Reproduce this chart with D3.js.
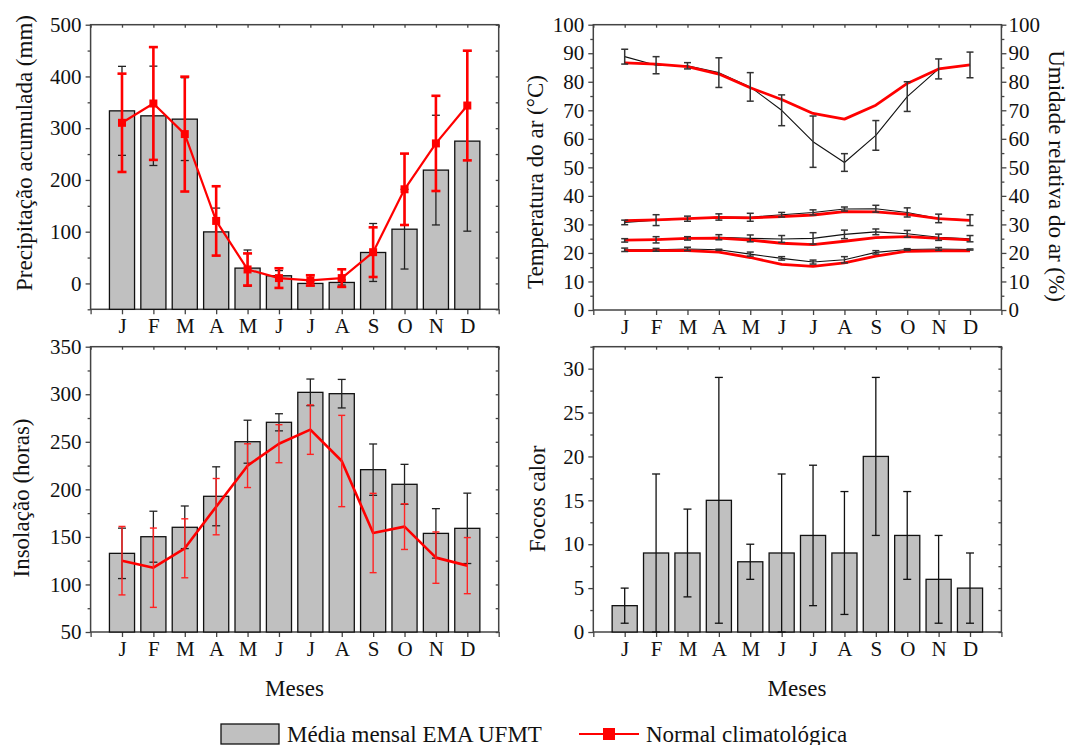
<!DOCTYPE html>
<html>
<head>
<meta charset="utf-8">
<script src="https://cdn.jsdelivr.net/npm/d3@7"></script>
<style>
body { margin: 0; background: #fff; }
</style>
</head>
<body>
<svg id="viz"></svg>
<script>
const months = ['J', 'F', 'M', 'A', 'M', 'J', 'J', 'A', 'S', 'O', 'N', 'D'];

// precipitação (mm)
const precipMean = [333.5, 323.9, 317.5, 99.6, 29.6, 14.8, 0, 1.9, 59.8, 104.8, 219, 275];
const precipMeanErr = [86, 96, 80, 46, 35, 10, 4, 5, 56, 77, 106, 174];
const precipNormal = [310.4, 347.7, 288.6, 120.8, 27, 10.3, 5.8, 10.3, 60.4, 181.9, 270.6, 343.8];
const precipNormalErr = [95, 109, 111, 67, 31, 19, 10, 17, 48, 69, 92, 106];

// umidade relativa (%)
const umidMean = [88.8, 85.8, 85.6, 83.2, 78.2, 70, 59, 51.7, 61.2, 74.8, 84.5, 85.9];
const umidMeanErr = [2.6, 3, 1.1, 5.2, 5, 5.4, 9, 3.1, 5.2, 5.2, 3.5, 4.5];
const umidNormal = [86.6, 86.2, 85.3, 82.7, 77.9, 73.8, 68.9, 66.9, 71.8, 79.4, 84.5, 85.9];

// temperatura do ar (°C)
const tmaxMean = [30.7, 31.5, 32.0, 32.6, 32.5, 33.4, 34.2, 35.4, 35.5, 34.2, 32.1, 31.5];
const tmaxErr = [0.8, 1.9, 0.9, 1.1, 1.4, 0.8, 0.9, 0.7, 1.2, 1.6, 1.5, 1.9];
const tmaxNormal = [31.3, 31.6, 32.0, 32.5, 32.3, 32.7, 33.3, 34.5, 34.4, 33.5, 32.0, 31.4];
const tmedMean = [24.4, 24.6, 25.1, 25.5, 25.1, 24.9, 25.1, 26.5, 27.4, 26.7, 25.5, 25.0];
const tmedErr = [0.6, 1.1, 0.6, 0.9, 1.2, 1.2, 2.0, 1.5, 1.0, 1.2, 1.1, 1.1];
const tmedNormal = [24.5, 24.7, 25.1, 25.2, 24.5, 23.4, 22.9, 24.1, 25.4, 25.7, 25.1, 24.6];
const tminMean = [21.1, 21.1, 21.4, 21.1, 19.6, 18.1, 16.8, 17.6, 20.2, 21.2, 21.4, 21.2];
const tminErr = [0.6, 0.5, 0.6, 0.2, 0.7, 0.6, 0.7, 1.1, 0.6, 0.3, 0.5, 0.2];
const tminNormal = [20.8, 20.8, 20.8, 20.3, 18.4, 16.0, 15.3, 16.5, 18.9, 20.6, 20.7, 20.7];

// insolação (horas)
const insolMean = [132.7, 150.2, 160.1, 192.7, 250.1, 270.5, 302, 300.6, 220.7, 205.3, 153.7, 159];
const insolMeanErr = [26.5, 26.8, 22.4, 31, 22.6, 9, 14, 15, 27, 21, 26, 37];
const insolNormal = [125, 117.6, 138, 181.8, 224.9, 248, 262.8, 229.8, 154.1, 160.8, 128.2, 119.8];
const insolNormalErr = [36, 41.7, 31, 29.6, 23, 20, 26, 48, 41.7, 24, 27, 29.5];

// focos de calor
const focos = [3, 9, 9, 15, 8, 9, 11, 9, 20, 11, 6, 5];
const focosMin = [1, 0, 4, 1, 6, 0, 3, 2, 11, 6, 1, 1];
const focosMax = [5, 18, 14, 29, 10, 18, 19, 16, 29, 16, 11, 9];

const width = 1067, height = 745;
const red = '#ff0000', barFill = '#c0c0c0', axisColor = '#444';
const serif = '"Liberation Serif", "Times New Roman", serif';

const svg = d3.select('#viz')
	.attr('width', width)
	.attr('height', height)
	.attr('font-family', serif);

const styleAxis = sel => {
	sel.attr('font-family', serif);
	sel.select('.domain').remove();
	sel.selectAll('line').attr('stroke', axisColor).attr('stroke-width', 1.3);
	sel.selectAll('text').attr('font-size', 21).attr('fill', '#111').attr('font-family', serif);
};

const panel = function(box, yDomain, major, minor) {
	const x = d3.scaleLinear().domain([0, 13]).range([box.left, box.right]),
		y = d3.scaleLinear().domain(yDomain).range([box.bottom, box.top]),
		g = svg.append('g'),
		majors = d3.range(Math.ceil(yDomain[0] / major) * major, yDomain[1] + 0.001, major),
		minors = d3.range(Math.ceil(yDomain[0] / minor) * minor, yDomain[1] + 0.001, minor)
			.filter(v => Math.abs(v / major - Math.round(v / major)) > 1e-6);

	g.append('g')
		.attr('transform', `translate(0,${box.bottom})`)
		.call(d3.axisBottom(x).tickValues(d3.range(14)).tickSize(5).tickPadding(4)
			.tickFormat(d => months[d - 1] || ''))
		.call(styleAxis);
	g.append('g')
		.attr('transform', `translate(0,${box.top})`)
		.call(d3.axisTop(x).tickValues(d3.range(14)).tickSize(-3).tickFormat(''))
		.call(styleAxis);
	g.append('g')
		.attr('transform', `translate(${box.left},0)`)
		.call(d3.axisLeft(y).tickValues(majors).tickSize(5).tickPadding(4))
		.call(styleAxis);
	g.append('g')
		.attr('transform', `translate(${box.left},0)`)
		.call(d3.axisLeft(y).tickValues(minors).tickSize(3).tickFormat(''))
		.call(styleAxis);

	g.append('rect')
		.attr('x', box.left).attr('y', box.top)
		.attr('width', box.right - box.left).attr('height', box.bottom - box.top)
		.attr('fill', 'none').attr('stroke', axisColor).attr('stroke-width', 1.5);

	return {x, y, g, majors, minors};
};

const rightTicks = function(p, box) {
	p.g.append('g')
		.attr('transform', `translate(${box.right},0)`)
		.call(d3.axisRight(p.y).tickValues(p.majors.concat(p.minors)).tickSize(-3).tickFormat(''))
		.call(styleAxis);
};

const bars = function(p, values, base) {
	const bw = (p.x(1) - p.x(0)) * 0.8;
	p.g.append('g').selectAll('rect')
		.data(values)
		.join('rect')
		.attr('x', (d, i) => p.x(i + 1) - bw / 2)
		.attr('y', d => p.y(d))
		.attr('width', bw)
		.attr('height', d => p.y(base) - p.y(d))
		.attr('fill', barFill)
		.attr('stroke', '#111')
		.attr('stroke-width', 1.3);
};

const errorBars = function(p, lo, hi, color, sw, cap) {
	const gg = p.g.append('g').attr('stroke', color).attr('stroke-width', sw);
	lo.forEach((l, i) => {
		const cx = p.x(i + 1);
		gg.append('line').attr('x1', cx).attr('x2', cx).attr('y1', p.y(l)).attr('y2', p.y(hi[i]));
		gg.append('line').attr('x1', cx - cap / 2).attr('x2', cx + cap / 2).attr('y1', p.y(l)).attr('y2', p.y(l));
		gg.append('line').attr('x1', cx - cap / 2).attr('x2', cx + cap / 2).attr('y1', p.y(hi[i])).attr('y2', p.y(hi[i]));
	});
};

const line = function(p, values, color, sw) {
	p.g.append('path')
		.attr('d', d3.line().x((d, i) => p.x(i + 1)).y(d => p.y(d))(values))
		.attr('fill', 'none')
		.attr('stroke', color)
		.attr('stroke-width', sw)
		.attr('stroke-linejoin', 'round');
};

const label = function(text, x, y, size) {
	return svg.append('text')
		.attr('x', x).attr('y', y)
		.attr('font-family', serif)
		.attr('font-size', size)
		.attr('fill', '#111')
		.text(text);
};

const yTitle = function(text, cx, cy, rot) {
	label(text, 0, 0, 23)
		.attr('transform', `translate(${cx},${cy}) rotate(${rot})`)
		.attr('text-anchor', 'middle')
		.attr('dominant-baseline', 'central');
};

const lo = (v, e) => v.map((d, i) => d - e[i]);
const hi = (v, e) => v.map((d, i) => d + e[i]);

// painel 1: precipitação
const box1 = {left: 90.6, right: 498.7, top: 24.7, bottom: 309.3};
const p1 = panel(box1, [-50, 500], 100, 50);
rightTicks(p1, box1);
bars(p1, precipMean, -50);
errorBars(p1, lo(precipMean, precipMeanErr), hi(precipMean, precipMeanErr), '#222', 1.3, 8);
line(p1, precipNormal, red, 2.2);
errorBars(p1, lo(precipNormal, precipNormalErr), hi(precipNormal, precipNormalErr), red, 2.6, 9);
p1.g.append('g').selectAll('rect')
	.data(precipNormal)
	.join('rect')
	.attr('x', (d, i) => p1.x(i + 1) - 4)
	.attr('y', d => p1.y(d) - 4)
	.attr('width', 8).attr('height', 8)
	.attr('fill', red);
yTitle('Precipitação acumulada (mm)', 24, 153, -90);

// painel 2: temperatura e umidade
const box2 = {left: 593.3, right: 1001.4, top: 24.7, bottom: 310};
const p2 = panel(box2, [0, 100], 10, 5);
const yHum = d3.scaleLinear().domain([0, 100]).range([box2.bottom, box2.top]);
p2.g.append('g')
	.attr('transform', `translate(${box2.right},0)`)
	.call(d3.axisRight(yHum).tickValues(d3.range(0, 101, 10)).tickSize(5).tickPadding(2))
	.call(styleAxis);
p2.g.append('g')
	.attr('transform', `translate(${box2.right},0)`)
	.call(d3.axisRight(yHum).tickValues(d3.range(5, 100, 10)).tickSize(3).tickFormat(''))
	.call(styleAxis);
[[tmaxMean, tmaxErr, tmaxNormal], [tmedMean, tmedErr, tmedNormal], [tminMean, tminErr, tminNormal], [umidMean, umidMeanErr, umidNormal]]
	.forEach(([m, e, n]) => {
		line(p2, m, '#111', 1.1);
		line(p2, n, red, 2.8);
		errorBars(p2, lo(m, e), hi(m, e), '#333', 1.5, 7);
	});
yTitle('Temperatura do ar (°C)', 535, 182, -90);
yTitle('Umidade relativa do ar (%)', 1056, 176, 90);

// painel 3: insolação
const box3 = {left: 90.6, right: 498.7, top: 346.7, bottom: 632};
const p3 = panel(box3, [50, 350], 50, 25);
rightTicks(p3, box3);
bars(p3, insolMean, 50);
errorBars(p3, lo(insolMean, insolMeanErr), hi(insolMean, insolMeanErr), '#222', 1.3, 8);
line(p3, insolNormal, red, 2.6);
errorBars(p3, lo(insolNormal, insolNormalErr), hi(insolNormal, insolNormalErr), '#f22', 1.4, 7);
yTitle('Insolação (horas)', 21.5, 498, -90);

// painel 4: focos de calor
const box4 = {left: 593.3, right: 1001.4, top: 346.7, bottom: 632};
const p4 = panel(box4, [0, 32.5], 5, 2.5);
rightTicks(p4, box4);
bars(p4, focos, 0);
errorBars(p4, focosMin, focosMax, '#111', 1.3, 8);
yTitle('Focos calor', 537.5, 499, -90);

label('Meses', 294.5, 696, 23).attr('text-anchor', 'middle');
label('Meses', 797, 696, 23).attr('text-anchor', 'middle');

// legenda
svg.append('rect').attr('x', 221).attr('y', 724).attr('width', 58).attr('height', 20)
	.attr('fill', barFill).attr('stroke', '#111').attr('stroke-width', 1.3);
label('Média mensal EMA UFMT', 287, 741.5, 23);
svg.append('line').attr('x1', 579).attr('x2', 639).attr('y1', 734).attr('y2', 734)
	.attr('stroke', red).attr('stroke-width', 2.2);
svg.append('rect').attr('x', 603).attr('y', 728).attr('width', 12).attr('height', 12).attr('fill', red);
label('Normal climatológica', 646, 741.5, 23);
</script>
</body>
</html>
